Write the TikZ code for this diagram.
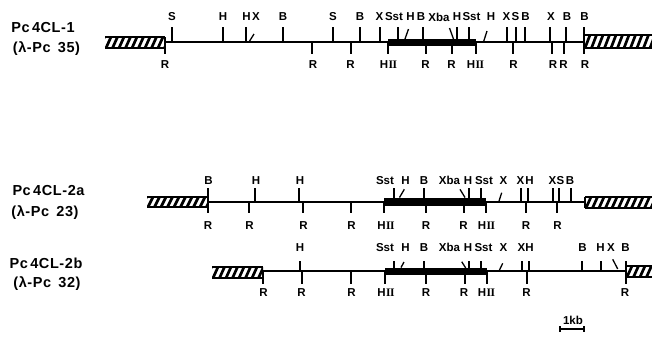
\documentclass[tikz,border=0pt]{standalone}
\usepackage{fontspec}
\setmainfont{Liberation Sans}
\newfontfamily\romfont{Liberation Serif}
\newfontfamily\titlefont[LetterSpace=4]{Liberation Sans}
% HindII site label: H followed by a serif roman two
\newcommand\HII{H{\romfont\kern0.4pt I\kern-0.5pt I}}

\tikzset{
  dna/.style={line width=1.2pt},
  cut/.style={line width=1.3pt},
  site/.style={font=\bfseries\fontsize{11.5}{12}\selectfont, inner sep=0pt},
  clone/.style={font=\titlefont\bfseries\fontsize{14.5}{16}\selectfont, inner sep=0pt},
  hatchline/.style={line width=2.7pt},
  exon/.style={fill=black},
}

% vector arm: hatched box between x1 and x2, top and bottom y
\newcommand\hatchbox[4]{%
  \begin{scope}
    \clip (#1,#3) rectangle (#2,#4);
    \foreach \s in {-12,-5.5,...,80}{\draw[hatchline] ({#1+\s},#4) -- ({#1+\s+5},#3);}
  \end{scope}
  \draw[line width=1.1pt] (#1,#3) -- (#2,#3) (#1,#4) -- (#2,#4);
}

\begin{document}
\begin{tikzpicture}[x=1pt,y=-1pt]
\useasboundingbox (0,0) rectangle (652,341);

% ---------------- Pc4CL-1 ----------------
\node[clone] (c1a) at (43,28) {Pc\,4CL-1};
\node[clone] (c1b) at (46.5,48.5) {(λ-Pc\enspace 35)};
\hatchbox{105}{165}{37}{48}
\hatchbox{584}{652}{35}{48}
\draw[dna] (165,42) -- (584,42);
\fill[exon] (388,39) rectangle (476,46);
\draw[cut] (165,37) -- (165,54);
\foreach \x in {172,223,246,283,333,360,380,398,423,457,469,507,516,525,550,566,584}
  \draw[cut] (\x,42) -- (\x,27);
\draw[cut] (249,42) -- (254,34) (405,39) -- (408.5,29) (449.5,28) -- (453.5,39) (483.5,42) -- (487,31);
\foreach \x in {165,312,351,388,426,452,476,513,552,564,584}
  \draw[cut] (\x,42) -- (\x,54);
\foreach \x/\t [count=\i] in {172/S,223/H,246.5/H,256/X,283/B,333/S,360/B,379.5/X,394/Sst,410.5/H,421/B,439/Xba,457/H,471.5/Sst,491/H,506.5/X,515.5/S,525.5/B,551/X,567/B,584.5/B}
  \node[site] (r1u\i) at (\x,17) {\t};
\foreach \x/\t [count=\i] in {165/R,313/R,350.5/R,388.5/\HII,425.5/R,451.5/R,475.5/\HII,513.5/R,553/R,563.5/R,585/R}
  \node[site] (r1d\i) at (\x,65) {\t};

% ---------------- Pc4CL-2a ----------------
\node[clone] (c2a) at (48.5,191) {Pc\,4CL-2a};
\node[clone] (c2b) at (45,212.5) {(λ-Pc\enspace 23)};
\hatchbox{147}{208}{197}{207}
\hatchbox{585}{652}{197}{208}
\draw[dna] (208,202) -- (585,202);
\fill[exon] (384,197.5) rectangle (486,206);
\draw[cut] (585,197) -- (585,208);
\foreach \x in {208,255,299,394,424,469,481,521,528,553,559,571}
  \draw[cut] (\x,202) -- (\x,188);
\draw[cut] (399.5,197.5) -- (404.3,189.3) (460,189.3) -- (465,197.5) (498.7,202) -- (501.7,192.7);
\foreach \x in {208,249,303,351,384,426,464,486,526,557}
  \draw[cut] (\x,202) -- (\x,213);
\foreach \x/\t [count=\i] in {208.5/B,256/H,300/H,385/Sst,405.5/H,424/B,449.5/Xba,468/H,484/Sst,503.5/X,520.5/X,529.5/H,552.5/X,560.5/S,570/B}
  \node[site] (r2u\i) at (\x,180.5) {\t};
\foreach \x/\t [count=\i] in {208/R,249.5/R,303.5/R,351.5/R,386/\HII,426/R,463.5/R,486.5/\HII,526/R,557.5/R}
  \node[site] (r2d\i) at (\x,226) {\t};

% ---------------- Pc4CL-2b ----------------
\node[clone] (c3a) at (46,263) {Pc\,4CL-2b};
\node[clone] (c3b) at (47,283.5) {(λ-Pc\enspace 32)};
\hatchbox{212}{263}{267}{278}
\hatchbox{626}{652}{266}{277}
\draw[dna] (263,271) -- (626,271);
\fill[exon] (385,267.5) rectangle (487,275);
\foreach \x in {300,394,424,469,481,522,529,582,601,626}
  \draw[cut] (\x,271) -- (\x,261);
\draw[cut] (401,267.5) -- (404,262) (461.7,261.7) -- (465.7,268) (499,271) -- (502.7,263.3) (612.7,259.3) -- (617.7,269);
\foreach \x in {263,302,351,385,426,465,487,527,626}
  \draw[cut] (\x,271) -- (\x,284);
\foreach \x/\t [count=\i] in {300/H,385/Sst,405.5/H,424/B,449.5/Xba,468/H,483.5/Sst,503.5/X,521.5/X,529.5/H,582.5/B,600.5/H,611/X,625.5/B}
  \node[site] (r3u\i) at (\x,247.5) {\t};
\foreach \x/\t [count=\i] in {263.5/R,301.5/R,351.5/R,386/\HII,426/R,464/R,486.5/\HII,526.5/R,625/R}
  \node[site] (r3d\i) at (\x,293) {\t};

% ---------------- scale bar ----------------
\node[site, font=\bfseries\fontsize{11.5}{12}\selectfont] (kb) at (573,320) {1kb};
\coordinate (sbl) at (560,329);
\coordinate (sbr) at (584,329);
\draw[cut, line width=1.1pt] (sbl) -- (sbr);
\draw[cut, line width=1.1pt] (560,326) -- (560,331.5) (584,326) -- (584,331.5);
\end{tikzpicture}
\end{document}
